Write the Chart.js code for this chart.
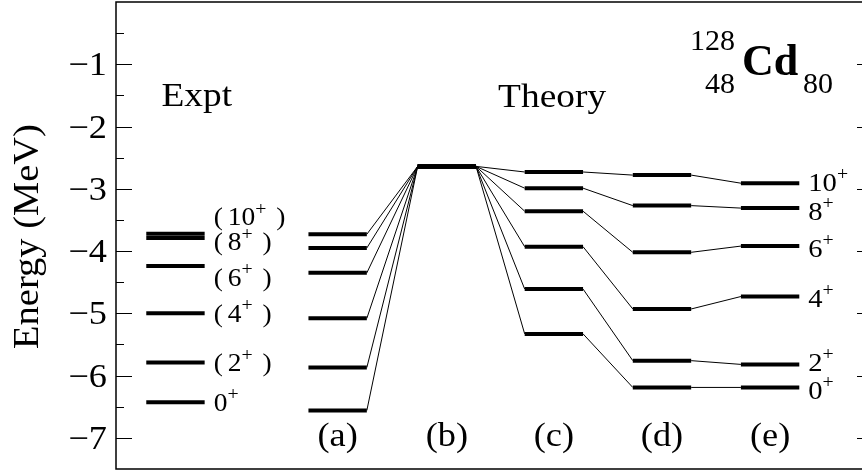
<!DOCTYPE html>
<html>
<head>
<meta charset="utf-8">
<script src="https://cdn.jsdelivr.net/npm/chart.js@4.4.0/dist/chart.umd.min.js"></script>
<style>
  html, body { margin: 0; padding: 0; background: #fff; overflow: hidden; }
  #wrap { width: 862px; height: 470px; }
</style>
</head>
<body>
<div id="wrap"><canvas id="myChart" width="862" height="470"></canvas></div>
<script>
// spins of the levels, lowest first
const spins = ['0', '2', '4', '6', '8', '10'];
const columnNames = ['Expt', '(a)', '(b)', '(c)', '(d)', '(e)'];

// level energies in MeV
const expt    = [-6.43, -5.79, -5.00, -4.24, -3.79, -3.72];
const theoryA = [-6.56, -5.87, -5.08, -4.35, -3.95, -3.73];
const theoryB = [-2.64, -2.64, -2.64, -2.64, -2.64, -2.64];
const theoryC = [-5.33, -4.61, -3.93, -3.36, -2.99, -2.73];
const theoryD = [-6.19, -5.76, -4.93, -4.02, -3.27, -2.78];
const theoryE = [-6.19, -5.82, -4.73, -3.92, -3.31, -2.91];

const yTickValues = [-7, -6, -5, -4, -3, -2, -1];
const yMinorValues = [-6.5, -5.5, -4.5, -3.5, -2.5, -1.5, -0.5];

// layout
const colX = [0.55, 2.05, 3.06, 4.05, 5.05, 6.05];
const HALF = 0.27;
const SERIF = "'Liberation Serif', 'Times New Roman', serif";
const SX = 1.1; // the original lettering is a bit wide
// pixel nudges of the spin labels from their level (centre of digits)
const exptLabelShift = [0, 0, 0, 11, 4, -17];
const rightLabelShift = [3, -2, 2, 2, 3, -1];

const columns = [expt, theoryA, theoryB, theoryC, theoryD, theoryE];
const datasets = [];

columns.forEach((lv, c) => {
  lv.forEach((e) => {
    datasets.push({
      data: [{ x: colX[c] - HALF, y: e }, { x: colX[c] + HALF, y: e }],
      borderColor: '#000',
      borderWidth: 4,
      borderCapStyle: 'butt'
    });
  });
});

// thin connectors between theory columns
for (let c = 1; c < columns.length - 1; c++) {
  spins.forEach((s, i) => {
    datasets.push({
      data: [{ x: colX[c] + HALF, y: columns[c][i] }, { x: colX[c + 1] - HALF, y: columns[c + 1][i] }],
      borderColor: '#000',
      borderWidth: 1
    });
  });
}

// draw text stretched horizontally, returns drawn width
function text(ctx, str, x, y, font, align) {
  ctx.font = font;
  const w = ctx.measureText(str).width * SX;
  ctx.save();
  ctx.textAlign = align || 'left';
  ctx.textBaseline = 'alphabetic';
  ctx.translate(x, y);
  ctx.scale(SX, 1);
  ctx.fillText(str, 0, 0);
  ctx.restore();
  return w;
}

function drawSpin(ctx, x, center, spin, paren, size) {
  const base = center + size * 0.34;
  const sup = Math.round(size * 0.7);
  let cx = x;
  if (paren) {
    text(ctx, '(', cx, base, size + 'px ' + SERIF);
    cx += 14;
  }
  cx += text(ctx, spin, cx, base, size + 'px ' + SERIF);
  cx += text(ctx, '+', cx, base - size * 0.42, sup + 'px ' + SERIF);
  if (paren) {
    text(ctx, ')', cx + 10, base, size + 'px ' + SERIF);
  }
}

const decor = {
  id: 'decor',
  afterDraw(chart) {
    const { ctx, chartArea: a, scales: { x, y } } = chart;
    ctx.save();
    ctx.strokeStyle = '#000';
    ctx.fillStyle = '#000';

    // frame (left, top, bottom)
    ctx.lineWidth = 1.5;
    ctx.beginPath();
    ctx.moveTo(a.right + 2, a.top);
    ctx.lineTo(a.left, a.top);
    ctx.lineTo(a.left, a.bottom);
    ctx.lineTo(a.right + 2, a.bottom);
    ctx.stroke();

    // inward ticks
    ctx.lineWidth = 1.2;
    ctx.beginPath();
    yTickValues.forEach(v => {
      const py = Math.round(y.getPixelForValue(v)) + 0.5;
      ctx.moveTo(a.left, py); ctx.lineTo(a.left + 16, py);
      ctx.moveTo(a.right, py); ctx.lineTo(a.right - 5, py);
    });
    yMinorValues.forEach(v => {
      const py = Math.round(y.getPixelForValue(v)) + 0.5;
      ctx.moveTo(a.left, py); ctx.lineTo(a.left + 8, py);
    });
    ctx.stroke();

    // tick labels
    yTickValues.forEach(v => {
      text(ctx, '\u2212' + Math.abs(v), a.left - 9, y.getPixelForValue(v) + 11, '33px ' + SERIF, 'right');
    });

    // y title
    ctx.save();
    ctx.translate(37.5, (a.top + a.bottom) / 2 + 1);
    ctx.rotate(-Math.PI / 2);
    text(ctx, 'Energy (MeV)', 0, 0, '35px ' + SERIF, 'center');
    ctx.restore();

    // headings
    text(ctx, 'Expt', x.getPixelForValue(0.42), y.getPixelForValue(-1.67), '34px ' + SERIF);
    text(ctx, 'Theory', x.getPixelForValue(3.534), y.getPixelForValue(-1.686), '34px ' + SERIF);

    // nucleus label
    ctx.textBaseline = 'alphabetic';
    ctx.font = '30px ' + SERIF;
    ctx.textAlign = 'right';
    ctx.fillText('128', x.getPixelForValue(5.726), y.getPixelForValue(-0.771));
    ctx.fillText('48', x.getPixelForValue(5.726), y.getPixelForValue(-1.461));
    ctx.textAlign = 'left';
    ctx.fillText('80', x.getPixelForValue(6.355), y.getPixelForValue(-1.461));
    ctx.font = 'bold 44px ' + SERIF;
    ctx.fillText('Cd', x.getPixelForValue(5.791), y.getPixelForValue(-1.172));

    // column labels
    for (let c = 1; c < columnNames.length; c++) {
      text(ctx, columnNames[c], x.getPixelForValue(colX[c]), y.getPixelForValue(-7) + 8, '33px ' + SERIF, 'center');
    }

    // spin labels
    spins.forEach((s, i) => {
      const cyL = y.getPixelForValue(expt[i]) + exptLabelShift[i];
      drawSpin(ctx, x.getPixelForValue(colX[0] + HALF) + 9, cyL, s, i > 0, 25);
      const cyR = y.getPixelForValue(theoryE[i]) + rightLabelShift[i];
      drawSpin(ctx, x.getPixelForValue(colX[5] + HALF) + 9, cyR, s, false, 26);
    });
    ctx.restore();
  }
};

new Chart(document.getElementById('myChart'), {
  type: 'scatter',
  data: { datasets: datasets },
  options: {
    responsive: false,
    animation: false,
    showLine: true,
    elements: { point: { radius: 0, hoverRadius: 0 }, line: { tension: 0 } },
    layout: { padding: { top: 2, bottom: 1, left: 0, right: 0 } },
    plugins: { legend: { display: false }, tooltip: { enabled: false } },
    scales: {
      x: { type: 'linear', min: 0, max: 6.9, display: false },
      y: {
        type: 'linear',
        min: -7.5,
        max: 0,
        grid: { display: false, drawTicks: false },
        border: { display: false },
        afterBuildTicks: (s) => { s.ticks = yTickValues.map(v => ({ value: v })); },
        afterFit: (s) => { s.width = 116; s.paddingTop = 0; s.paddingBottom = 0; },
        ticks: { display: false }
      }
    }
  },
  plugins: [decor]
});
</script>
</body>
</html>
